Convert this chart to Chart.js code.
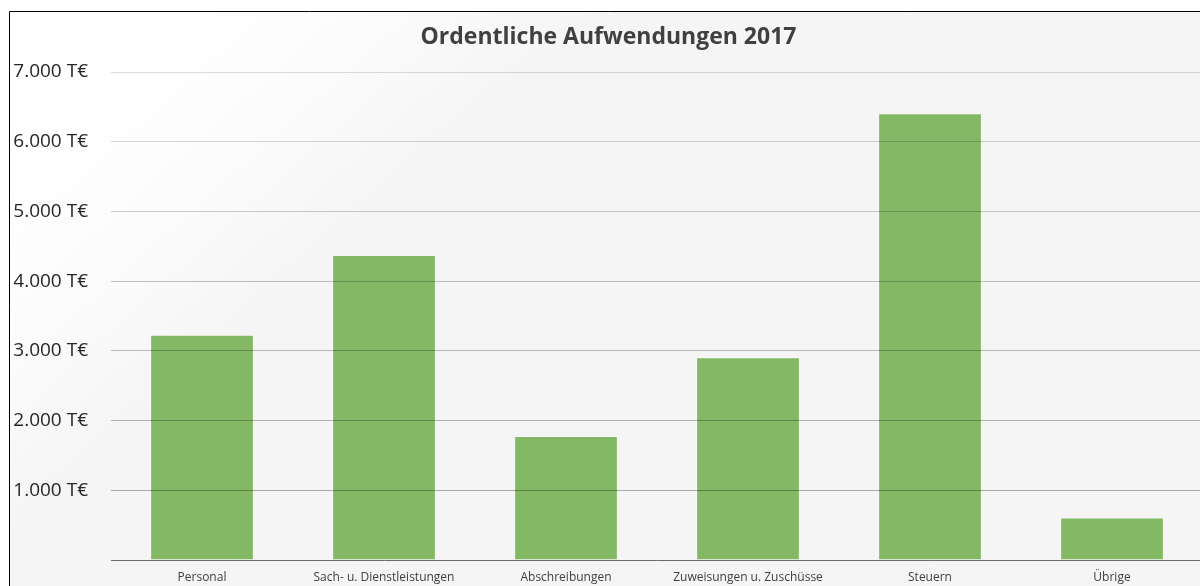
<!DOCTYPE html>
<html>
<head>
<meta charset="utf-8">
<title>Ordentliche Aufwendungen 2017</title>
<script src="https://cdn.jsdelivr.net/npm/chart.js@4/dist/chart.umd.min.js"></script>
<style>
  html, body { margin: 0; padding: 0; background: #fff; overflow: hidden; }
  #wrap { position: absolute; left: 0; top: 0; width: 1210px; height: 600px; }
</style>
</head>
<body>
<div id="wrap"><canvas id="chart"></canvas></div>
<script>
// Werte in T€
const categories = ['Personal', 'Sach- u. Dienstleistungen', 'Abschreibungen', 'Zuweisungen u. Zuschüsse', 'Steuern', 'Übrige'];
const values = [3230, 4375, 1780, 2910, 6410, 610];
const yMax = 7000;
const yStep = 1000;

const fmt = v => v.toLocaleString('de-DE') + ' T€';

// frame + soft background like the office chart
const backdrop = {
  id: 'backdrop',
  beforeDraw(chart) {
    const c = chart.ctx;
    c.save();
    const g = c.createLinearGradient(160, 60, 330, 250);
    g.addColorStop(0, '#ffffff');
    g.addColorStop(0.5, '#fbfbfb');
    g.addColorStop(1, '#f5f5f5');
    c.fillStyle = g;
    c.fillRect(10, 12, chart.width, chart.height);
    c.strokeStyle = '#000';
    c.lineWidth = 1;
    c.beginPath();
    c.moveTo(9.5, chart.height);
    c.lineTo(9.5, 11.5);
    c.lineTo(chart.width, 11.5);
    c.stroke();
    c.restore();
  }
};

new Chart(document.getElementById('chart'), {
  type: 'bar',
  data: {
    labels: categories,
    datasets: [{
      data: values,
      backgroundColor: '#83b964',
      borderColor: 'rgba(255,255,255,0.35)',
      borderWidth: 1,
      categoryPercentage: 1,
      barPercentage: 0.57
    }]
  },
  options: {
    responsive: true,
    maintainAspectRatio: false,
    animation: false,
    layout: { padding: { left: 14, right: 7, top: 0, bottom: 0 } },
    plugins: {
      legend: { display: false },
      tooltip: { enabled: false },
      title: {
        display: true,
        text: 'Ordentliche Aufwendungen 2017',
        color: '#404040',
        font: { family: 'Open Sans', size: 23, weight: 'bold', lineHeight: 1.2 },
        padding: { top: 24, bottom: 20.4 }
      }
    },
    scales: {
      x: {
        grid: { display: false, drawTicks: false },
        border: { display: true, color: '#6b6b6b', width: 1 },
        ticks: {
          color: '#404040',
          font: { family: 'Open Sans', size: 12 },
          padding: 10,
          maxRotation: 0,
          autoSkip: false
        },
        afterFit(scale) { scale.height = 40; }
      },
      y: {
        min: 0,
        max: yMax,
        grid: {
          z: 1,
          drawTicks: false,
          color: ctx => {
            const v = ctx.tick ? ctx.tick.value : 0;
            if (v === 0) return 'rgba(0,0,0,0)';
            const a = 0.14 + 0.2 * (1 - v / yMax);
            return 'rgba(0,0,0,' + a.toFixed(3) + ')';
          }
        },
        border: { display: false },
        ticks: {
          stepSize: yStep,
          color: '#262626',
          font: { family: 'Open Sans', size: 19 },
          padding: 23,
          callback: v => v === 0 ? '' : fmt(v)
        },
        afterFit(scale) { scale.width = 97; }
      }
    }
  },
  plugins: [backdrop]
});
</script>
</body>
</html>
